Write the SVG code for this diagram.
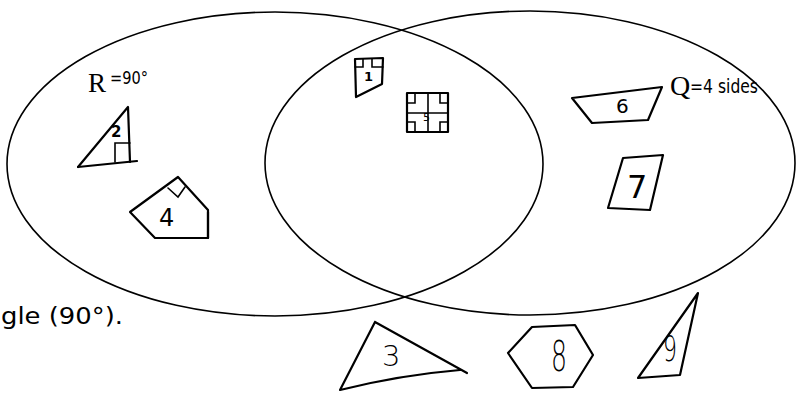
<svg xmlns="http://www.w3.org/2000/svg" width="800" height="403" viewBox="0 0 800 403">
<style>
.set{fill:none;stroke:#000;stroke-width:1.6}
.shp{fill:none;stroke:#000;stroke-width:2.2;stroke-linejoin:round;stroke-linecap:round}
.thin{fill:none;stroke:#000;stroke-width:1.6;stroke-linecap:round}
.hand{font-family:"DejaVu Sans",sans-serif;fill:#000}
.light{font-weight:200}
.serif{font-family:"Liberation Serif",serif;fill:#000}
</style>
<rect width="800" height="403" fill="#fff"/>
<g id="connectors">
  <ellipse id="setR" class="set" cx="275" cy="164" rx="268" ry="152"/>
  <ellipse id="setQ" class="set" cx="530" cy="163" rx="265" ry="152"/>
</g>
<g id="labelR">
  <text class="serif" x="88" y="92" font-size="27">R</text>
  <text class="hand" x="110" y="84" font-size="18" textLength="38" lengthAdjust="spacingAndGlyphs">=90°</text>
</g>
<g id="labelQ">
  <text class="serif" x="670" y="95" font-size="28">Q</text>
  <text class="hand" x="690" y="93" font-size="20" textLength="68" lengthAdjust="spacingAndGlyphs">=4 sides</text>
</g>
<g id="caption">
  <text x="1" y="324" font-family="DejaVu Sans,sans-serif" font-size="23" textLength="122" lengthAdjust="spacingAndGlyphs">gle (90°).</text>
</g>
<g id="shape1">
  <path class="shp" d="M355,59 L383,58 L382,84 L356,97 Z"/>
  <path class="thin" d="M355,67 L363,67 L363,59 M372,59 L372,67 L383,67"/>
  <text class="hand" x="364" y="81" font-size="13" font-weight="bold">1</text>
</g>
<g id="shape2">
  <path class="shp" d="M78,167 L128,107 L130,162"/>
  <path class="shp" d="M78,167 L137,161"/>
  <path class="thin" d="M115,162 L115,143 L130,143"/>
  <text class="hand" x="111" y="137" font-size="15" font-weight="bold">2</text>
</g>
<g id="shape3">
  <path class="shp" d="M375,322 L467,373 M375,322 L340,390 Q400,375 460,370"/>
  <text class="hand light" x="382" y="366" font-size="29">3</text>
</g>
<g id="shape4">
  <path class="shp" d="M178,177 L208,210 L208,238 L155,238 L130,212 Z"/>
  <path class="shp" d="M208,212 L208,238" stroke-width="3.5"/>
  <path class="thin" d="M168,188 L178,197 L185,187"/>
  <text class="hand" x="159" y="226" font-size="24">4</text>
</g>
<g id="shape5">
  <rect class="shp" x="407" y="93" width="41" height="39"/>
  <path class="thin" d="M428,93 L428,132 M407,113 L448,113 M407,103 L415,103 L415,93 M440,93 L440,103 L448,103 M407,122 L415,122 L415,132 M440,132 L440,122 L448,122"/>
  <text class="hand" x="423" y="121" font-size="11">5</text>
</g>
<g id="shape6">
  <path class="shp" d="M572,98 L662,87 L648,120 L592,123 Z"/>
  <text class="hand" x="616" y="113" font-size="20">6</text>
</g>
<g id="shape7">
  <path class="shp" d="M623,158 L663,155 L650,210 L608,208 Z"/>
  <text class="hand" x="627" y="198" font-size="32">7</text>
</g>
<g id="shape8">
  <path class="shp" d="M532,327 L575,325 L593,355 L573,387 L532,388 L508,353 Z"/>
  <text class="hand light" x="551" y="371" font-size="43" textLength="16" lengthAdjust="spacingAndGlyphs">8</text>
</g>
<g id="shape9">
  <path class="shp" d="M698,293 L638,378 L680,375 Z"/>
  <text class="hand light" x="663" y="361" font-size="36" textLength="14" lengthAdjust="spacingAndGlyphs">9</text>
</g>
</svg>
